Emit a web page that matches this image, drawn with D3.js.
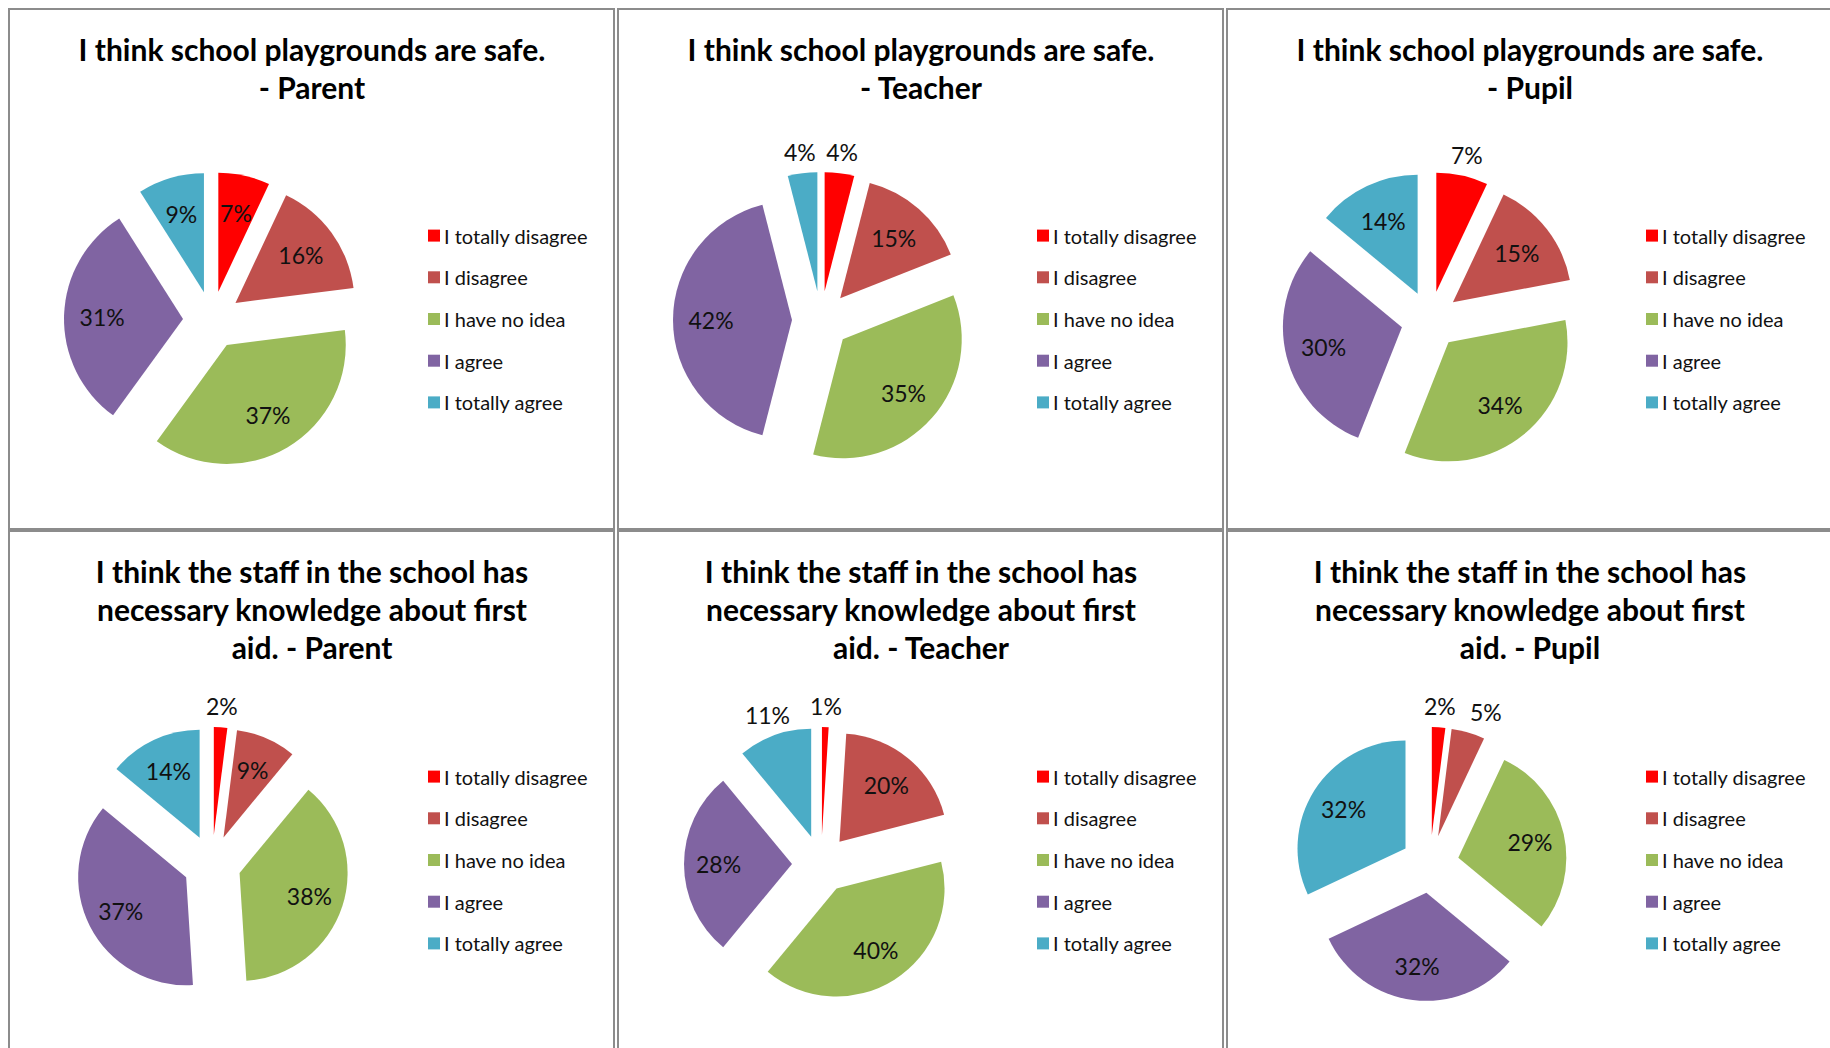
<!DOCTYPE html>
<head>
    <meta charset="utf-8">
    <script src="https://d3js.org/d3.v7.min.js"></script>
    <style>
        body { margin: 0; background: #fff; }
        text { font-family: Lato, "Open Sans", sans-serif; }
    </style>
</head>

<body>
    <svg width="1830" height="1048"></svg>

    <script>
        // answer categories, same for every chart
        const categories = ["I totally disagree", "I disagree", "I have no idea", "I agree", "I totally agree"]
        const colors = ["#FF0000", "#C0504D", "#9BBB59", "#8064A2", "#4BACC6"]

        // titles, one line per entry
        const titles = [
            ["I think school playgrounds are safe.", "- Parent"],
            ["I think school playgrounds are safe.", "- Teacher"],
            ["I think school playgrounds are safe.", "- Pupil"],
            ["I think the staff in the school has", "necessary knowledge about first", "aid. - Parent"],
            ["I think the staff in the school has", "necessary knowledge about first", "aid. - Teacher"],
            ["I think the staff in the school has", "necessary knowledge about first", "aid. - Pupil"]
        ]

        // percentages, in category order
        const safeParent = [7, 16, 37, 31, 9]
        const safeTeacher = [4, 15, 35, 42, 4]
        const safePupil = [7, 15, 34, 30, 14]
        const aidParent = [2, 9, 38, 37, 14]
        const aidTeacher = [1, 20, 40, 28, 11]
        const aidPupil = [2, 5, 29, 32, 32]
        const series = [safeParent, safeTeacher, safePupil, aidParent, aidTeacher, aidPupil]

        // which slice labels sit outside the pie (category index)
        const labelsOutside = [[], [0, 4], [0], [0], [0, 4], [0, 1]]

        let svg = d3.select("svg")
        svg.append("rect").attr("width", 1830).attr("height", 1048).attr("fill", "white")

        const panelW = 605, panelH = 520
        const pie = d3.pie().sort(null).value(d => d)

        function drawPanel(i) {
            let col = i % 3, row = Math.floor(i / 3)
            let x0 = 9 + col * 609
            let y0 = 9 + row * 522
            let g = svg.append("g").attr("transform", `translate(${x0},${y0})`)

            g.append("rect")
                .attr("width", panelW)
                .attr("height", panelH)
                .attr("fill", "white")
                .attr("stroke", "#8c8c8c")
                .attr("stroke-width", 2)

            let lines = titles[i]
            g.selectAll("text.title")
                .data(lines)
                .enter()
                .append("text")
                .attr("class", "title")
                .attr("x", 303)
                .attr("y", (d, k) => 52 + k * 38)
                .attr("text-anchor", "middle")
                .attr("font-size", 30)
                .attr("font-weight", "bold")
                .attr("fill", "#000")
                .text(d => d)

            let extra = lines.length - 2
            let r = 119 - extra * 11
            let cx = 203, cy = 311 + extra * 22
            let explode = 29

            let arc = d3.arc().innerRadius(0).outerRadius(r)
            let arcs = pie(series[i])
            let mid = d => (d.startAngle + d.endAngle) / 2

            // label positions; outside labels that crowd each other get pushed apart
            let labs = arcs.map((d, k) => {
                let out = labelsOutside[i].includes(k)
                let dist = explode + (out ? r + 21 : 0.68 * r)
                return { v: d.data, out: out, x: dist * Math.sin(mid(d)), y: -dist * Math.cos(mid(d)) }
            })
            let outs = labs.filter(l => l.out && l.x > -10).sort((a, b) => a.x - b.x)
            for (let k = 1; k < outs.length; k++) {
                let dx = outs[k].x - outs[k - 1].x
                if (dx < 38) outs[k].x += 46 - dx
            }

            let pg = g.append("g").attr("transform", `translate(${cx},${cy})`)
            pg.selectAll("path")
                .data(arcs)
                .enter()
                .append("path")
                .attr("d", arc)
                .attr("fill", (d, k) => colors[k])
                .attr("transform", d => `translate(${explode * Math.sin(mid(d))},${-explode * Math.cos(mid(d))})`)

            pg.selectAll("text.lab")
                .data(labs)
                .enter()
                .append("text")
                .attr("class", "lab")
                .attr("x", d => d.x)
                .attr("y", d => d.y)
                .attr("text-anchor", "middle")
                .attr("dominant-baseline", "central")
                .attr("font-size", 23)
                .attr("fill", "#111")
                .text(d => d.v + "%")

            // legend, centred on the pie
            let lg = g.append("g").attr("transform", `translate(419,${cy - 1 - extra * 3})`)
            let item = lg.selectAll("g")
                .data(categories)
                .enter()
                .append("g")
                .attr("transform", (d, k) => `translate(0,${(k - 2) * 41.7})`)
            item.append("rect")
                .attr("x", 0)
                .attr("y", -6)
                .attr("width", 12)
                .attr("height", 12)
                .attr("fill", (d, k) => colors[k])
            item.append("text")
                .attr("x", 16)
                .attr("y", 0)
                .attr("dominant-baseline", "central")
                .attr("font-size", 20)
                .attr("fill", "#111")
                .text(d => d)
        }

        for (let i = 0; i < 6; i++) drawPanel(i)
    </script>
</body>
